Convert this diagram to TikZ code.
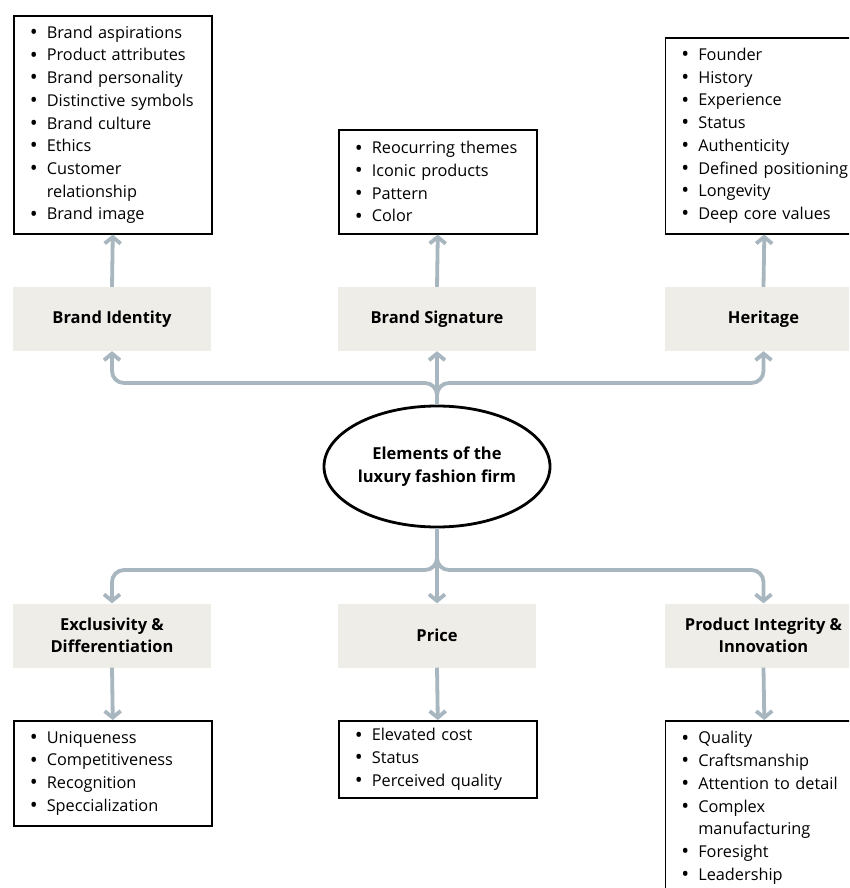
\documentclass[tikz,border=0pt]{standalone}
\usepackage{fontspec}
\setmainfont{Open Sans}
\usetikzlibrary{arrows.meta,shapes.geometric}
\definecolor{lblfill}{HTML}{EEEDE8}
\definecolor{arrowc}{HTML}{A8B6BF}
\newcommand\bl{\makebox[17pt][l]{\raisebox{-1.2pt}[0pt][0pt]{\fontsize{21}{0}\selectfont\textbullet}}}
\newcommand\ind{\hspace*{17pt}}
\begin{document}
\begin{tikzpicture}[x=1pt,y=-1pt,
 lbl/.style={fill=lblfill, minimum width=198pt, minimum height=64pt, font=\bfseries\fontsize{16.5}{22}\selectfont, align=center, inner sep=0pt},
 lst/.style={draw, line width=1.6pt, anchor=north west, minimum width=198pt, text width=166pt, inner xsep=16pt, align=left, font=\fontsize{16.3}{22.7}\selectfont},
 conn/.style={draw=arrowc, line width=3.8pt, rounded corners=12pt, -{Straight Barb[length=6.5pt,width=16pt]}}]
\useasboundingbox (0,0) rectangle (849,888);
\clip (0,0) rectangle (849,888);
\fill[white] (0,0) rectangle (849,888);
% center
\node[ellipse, draw, line width=2.8pt, minimum width=226pt, minimum height=121pt, inner sep=0pt, align=center, font=\bfseries\fontsize{16.5}{23}\selectfont] (c) at (437,466.5) {Elements of the\\luxury fashion firm};
% labels
\node[lbl] (bi) at (112,319) {Brand Identity};
\node[lbl] (bs) at (437,319) {Brand Signature};
\node[lbl] (he) at (763.5,319) {Heritage};
\node[lbl] (ex) at (112,635.5) {Exclusivity \&\\Differentiation};
\node[lbl] (pr) at (437,635.5) {Price};
\node[lbl] (pi) at (763.5,635.5) {Product Integrity \&\\Innovation};
% lists
\node[lst, minimum height=218pt] (bil) at (13,15) {\bl Brand aspirations\\\bl Product attributes\\\bl Brand personality\\\bl Distinctive symbols\\\bl Brand culture\\\bl Ethics\\\bl Customer\\\ind relationship\\\bl Brand image};
\node[lst, minimum height=104pt] (bsl) at (338,129) {\bl Reocurring themes\\\bl Iconic products\\\bl Pattern\\\bl Color};
\node[lst, minimum height=196pt] (hel) at (664.5,37) {\bl Founder\\\bl History\\\bl Experience\\\bl Status\\\bl Authenticity\\\bl \mbox{Defined positioning}\\\bl Longevity\\\bl Deep core values};
\node[lst, minimum height=105pt] (exl) at (13,720) {\bl Uniqueness\\\bl Competitiveness\\\bl Recognition\\\bl Speccialization};
\node[lst, minimum height=77pt] (prl) at (338,720) {\bl Elevated cost\\\bl Status\\\bl Perceived quality};
\node[lst, minimum height=174pt] (pil) at (664.5,720) {\bl Quality\\\bl Craftsmanship\\\bl \mbox{Attention to detail}\\\bl Complex\\\ind manufacturing\\\bl Foresight\\\bl Leadership};
% connectors up
\draw[conn] (c.north) -- (bs.south);
\draw[conn] (c.north) -- (437,383) -| (bi.south);
\draw[conn] (c.north) -- (437,383) -| (he.south);
\draw[conn] (bi.north) -- (bil.south);
\draw[conn] (bs.north) -- (bsl.south);
\draw[conn] (he.north) -- (hel.south);
% connectors down
\draw[conn] (c.south) -- (pr.north);
\draw[conn] (c.south) -- (437,570) -| (ex.north);
\draw[conn] (c.south) -- (437,570) -| (pi.north);
\draw[conn] (ex.south) -- (exl.north);
\draw[conn] (pr.south) -- (prl.north);
\draw[conn] (pi.south) -- (pil.north);
\end{tikzpicture}
\end{document}
